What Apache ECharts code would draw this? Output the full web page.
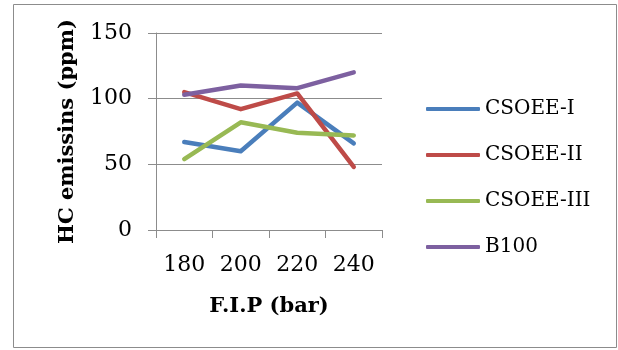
<!DOCTYPE html>
<html lang="en">
<head>
  <meta charset="UTF-8">
  <title>HC emissions</title>
  <script src="https://cdn.jsdelivr.net/npm/echarts@6/dist/echarts.min.js"></script>
  <style>
    html,body{margin:0;padding:0;background:#fff;}
    #chart{width:618px;height:350px;}
  </style>
</head>
<body>
  <div id="chart"></div>
  <script>
    // 数据
    var categories = ['180', '200', '220', '240'];
    var csoee1 = [67, 60, 97, 66];
    var csoee2 = [105, 92, 104, 48];
    var csoee3 = [54, 82, 74, 72];
    var b100 = [103, 110, 108, 120];
    var yTicks = [0, 50, 100, 150];

    var font = '"DejaVu Serif", "Liberation Serif", serif';
    var colors = ['#4A7EBB', '#BE4B48', '#98B954', '#7D60A0'];

    function line(name, data, color) {
      return {
        name: name,
        type: 'line',
        data: data,
        symbol: 'none',
        lineStyle: { width: 4.5, color: color, cap: 'round', join: 'round' },
        itemStyle: { color: color }
      };
    }

    var myChart = echarts.init(document.getElementById('chart'));
    var option = {
      animation: false,
      graphic: [{
        type: 'rect',
        shape: { x: 13.5, y: 4.5, width: 603, height: 343 },
        style: { fill: 'none', stroke: '#8c8c8c', lineWidth: 1 },
        silent: true
      }],
      grid: { left: 156, right: 236, top: 33, bottom: 120 },
      legend: {
        orient: 'vertical',
        left: 421,
        top: 94,
        itemWidth: 54,
        itemHeight: 4,
        itemGap: 26,
        icon: 'roundRect',
        textStyle: { fontFamily: font, fontSize: 20, color: '#000', padding: [0, 0, 0, 0] },
        data: ['CSOEE-I', 'CSOEE-II', 'CSOEE-III', 'B100']
      },
      xAxis: {
        type: 'category',
        data: categories,
        boundaryGap: true,
        name: 'F.I.P (bar)',
        nameLocation: 'middle',
        nameGap: 66,
        nameTextStyle: { fontFamily: font, fontSize: 21, fontWeight: 'bold', color: '#000' },
        axisLine: { lineStyle: { color: '#8c8c8c', width: 1 } },
        axisTick: { show: true, length: 8, lineStyle: { color: '#8c8c8c' } },
        axisLabel: { fontFamily: font, fontSize: 22, color: '#000', margin: 24 }
      },
      yAxis: {
        type: 'value',
        min: yTicks[0],
        max: yTicks[yTicks.length - 1],
        interval: 50,
        name: 'HC emissins (ppm)',
        nameLocation: 'middle',
        nameGap: 78,
        nameTextStyle: { fontFamily: font, fontSize: 21, fontWeight: 'bold', color: '#000' },
        axisLine: { show: true, lineStyle: { color: '#8c8c8c', width: 1 } },
        axisTick: { show: true, length: 8, lineStyle: { color: '#8c8c8c' } },
        splitLine: { show: true, lineStyle: { color: '#8c8c8c', width: 1 } },
        axisLabel: { fontFamily: font, fontSize: 22, color: '#000', margin: 24 }
      },
      series: [
        line('CSOEE-I', csoee1, colors[0]),
        line('CSOEE-II', csoee2, colors[1]),
        line('CSOEE-III', csoee3, colors[2]),
        line('B100', b100, colors[3])
      ]
    };
    myChart.setOption(option);
  </script>
</body>
</html>
